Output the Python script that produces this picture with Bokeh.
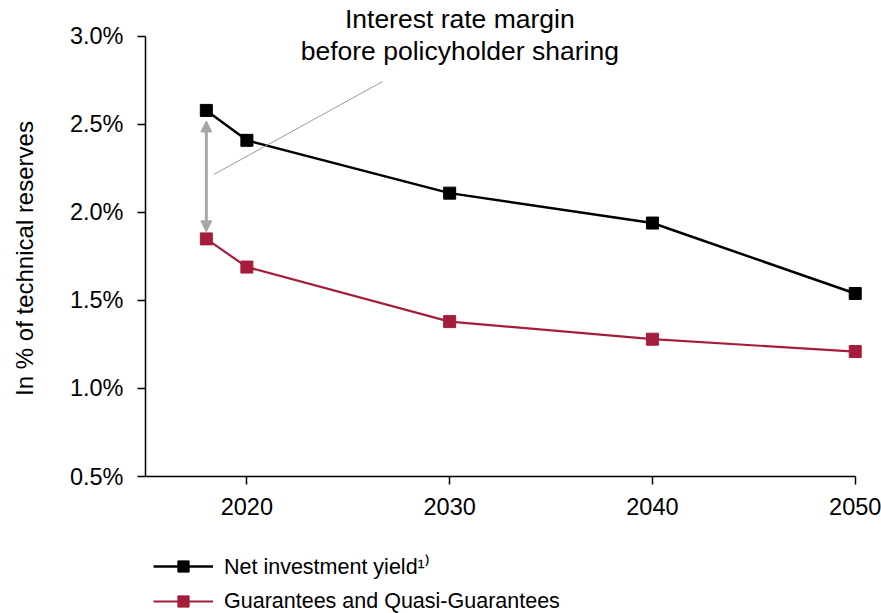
from bokeh.plotting import figure
from bokeh.layouts import column
from bokeh.models import (Range1d, FixedTicker, PrintfTickFormatter, Legend, LegendItem,
                          Arrow, NormalHead, Label, ColumnDataSource)
from bokeh.embed import file_html
from bokeh.resources import INLINE

# Projected yields, in % of technical reserves
years = [2018, 2020, 2030, 2040, 2050]
net_investment_yield = [2.58, 2.41, 2.11, 1.94, 1.54]
guarantees = [1.85, 1.69, 1.38, 1.28, 1.21]

x_ticks = [2020, 2030, 2040, 2050]
y_ticks = [0.5, 1.0, 1.5, 2.0, 2.5, 3.0]

series_names = ["Net investment yield\u00b9\u207e", "Guarantees and Quasi-Guarantees"]

FONT = "Liberation Sans"
BLACK = "#000000"
RED = "#A51D3B"
GREY = "#A6A6A6"

# the frame reaches the top edge so the caption above 3.0% can sit inside it
p = figure(width=881, height=530, output_backend="svg", toolbar_location=None,
           x_range=Range1d(2015, 2051), y_range=Range1d(0.5, 3.2045),
           min_border_left=145, min_border_right=6, min_border_top=0, min_border_bottom=54)
p.outline_line_color = None
p.xgrid.visible = False
p.ygrid.visible = False

# axes
p.xaxis.ticker = FixedTicker(ticks=x_ticks)
p.xaxis.bounds = (2015, 2050)
p.yaxis.ticker = FixedTicker(ticks=y_ticks)
p.yaxis.bounds = (0.5, 3.0)
p.yaxis.formatter = PrintfTickFormatter(format="%.1f%%")
for ax in (p.xaxis[0], p.yaxis[0]):
    ax.axis_line_color = BLACK
    ax.axis_line_width = 1.5
    ax.major_tick_line_color = BLACK
    ax.major_tick_line_width = 1.5
    ax.major_tick_in = 0
    ax.major_tick_out = 8
    ax.minor_tick_line_color = None
    ax.major_label_text_font = FONT
    ax.major_label_text_font_size = "23.5px"
    ax.major_label_text_color = BLACK
p.xaxis.major_label_standoff = 13
p.yaxis.major_label_standoff = 14
# trailing no-break spaces keep the title centred on the 0.5%-3.0% span
p.yaxis.axis_label = "In % of technical reserves" + "\u00a0" * 6
p.yaxis.axis_label_text_font = FONT
p.yaxis.axis_label_text_font_style = "normal"
p.yaxis.axis_label_text_font_size = "24px"
p.yaxis.axis_label_text_color = BLACK
p.yaxis.axis_label_standoff = 29

src = ColumnDataSource(dict(x=years, a=net_investment_yield, b=guarantees))

line_a = dict(line_color=BLACK, line_width=2.5)
mark_a = dict(marker="square", size=12, fill_color=BLACK, line_color=BLACK)
line_b = dict(line_color=RED, line_width=2.2)
mark_b = dict(marker="square", size=12, fill_color=RED, line_color=RED)

p.line("x", "a", source=src, **line_a)
p.scatter("x", "a", source=src, **mark_a)
p.line("x", "b", source=src, **line_b)
p.scatter("x", "b", source=src, **mark_b)

# double-headed arrow showing the margin between the two series in the first year
head = dict(size=11, fill_color=GREY, line_color=GREY)
p.add_layout(Arrow(x_start=years[0], y_start=guarantees[0] + 0.04,
                   x_end=years[0], y_end=net_investment_yield[0] - 0.06,
                   start=NormalHead(**head), end=NormalHead(**head),
                   line_color=GREY, line_width=3))

# callout line and its caption
p.segment(x0=[2018.37], y0=[2.216], x1=[2026.69], y1=[2.744], line_color="#9A9A9A", line_width=1)
for txt, yy in (("Interest rate margin", 3.102), ("before policyholder sharing", 2.92)):
    p.add_layout(Label(x=2030.5, y=yy, text=txt, text_align="center", text_baseline="middle",
                       text_font=FONT, text_font_size="26.5px", text_color=BLACK))

# legend strip under the chart; its renderers reuse the series but fall outside its 0-1 ranges
lg = figure(width=881, height=83, output_backend="svg", toolbar_location=None,
            x_range=Range1d(0, 1), y_range=Range1d(0, 1),
            x_axis_location=None, y_axis_location=None,
            min_border_left=0, min_border_right=0, min_border_top=0, min_border_bottom=0)
lg.outline_line_color = None
lg.xgrid.visible = False
lg.ygrid.visible = False
ra = [lg.line("x", "a", source=src, **line_a), lg.scatter("x", "a", source=src, **mark_a)]
rb = [lg.line("x", "b", source=src, **line_b), lg.scatter("x", "b", source=src, **mark_b)]
legend = Legend(items=[LegendItem(label=series_names[0], renderers=ra),
                       LegendItem(label=series_names[1], renderers=rb)],
                location=(8, -2), orientation="vertical",
                glyph_width=60, glyph_height=28, spacing=7, padding=0, margin=0,
                label_standoff=11, label_text_font=FONT, label_text_font_size="21.5px",
                label_text_color=BLACK, border_line_color=None, background_fill_alpha=0)
lg.add_layout(legend, "center")

layout = column(p, lg, spacing=0)
open("out.html", "w").write(file_html(layout, INLINE))
